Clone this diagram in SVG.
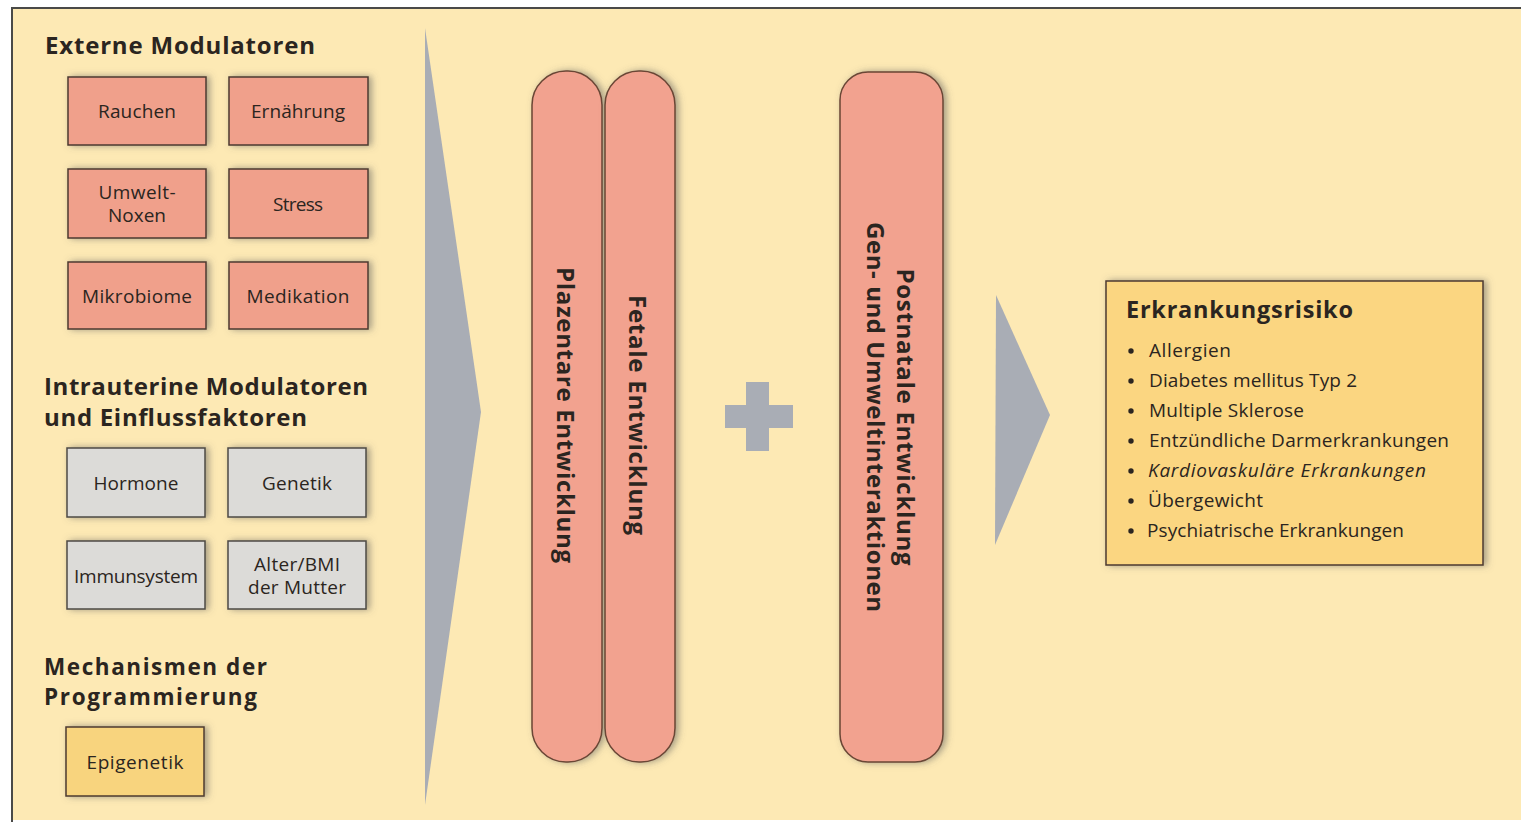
<svg xmlns="http://www.w3.org/2000/svg" width="1521" height="825" viewBox="0 0 1521 825">
<defs>
<filter id="sh" x="-20%" y="-20%" width="140%" height="140%">
<feDropShadow dx="3" dy="0" stdDeviation="3.5" flood-color="#5a5a5a" flood-opacity="0.55"/>
</filter>
<style>
.bg{fill:#fde9b4}
.frame{fill:none;stroke:#4a4a48;stroke-width:2}
.h{font-family:"Open Sans","Noto Sans",sans-serif;font-weight:700;font-size:24px;fill:#2b2520}
.h2{font-size:22.5px}
.t{font-family:"Open Sans","Noto Sans",sans-serif;font-size:19px;fill:#2b2520;text-anchor:middle}
.red{fill:#f0a08b;stroke:#4d3a30;stroke-width:1.5;filter:url(#sh)}
.grey{fill:#dcdbd8;stroke:#4d4a45;stroke-width:1.5;filter:url(#sh)}
.yel{fill:#f8d47e;stroke:#4d3a30;stroke-width:1.5;filter:url(#sh)}
.pill{fill:#f2a28f;stroke:#6a4635;stroke-width:1.5;filter:url(#sh)}
.vt{font-family:"Open Sans","Noto Sans",sans-serif;font-weight:700;font-size:24px;fill:#2b2520;text-anchor:middle;dominant-baseline:central}
.arr{fill:#a9adb5}
.li{font-family:"Open Sans","Noto Sans",sans-serif;font-size:19px;fill:#2b2520}
</style>
</defs>
<rect x="0" y="0" width="1521" height="825" fill="#ffffff"/>
<rect class="bg" x="12" y="8" width="1509" height="812"/>
<path class="frame" d="M12,822 V8 H1521"/>

<text class="h" x="45" y="54" textLength="270" lengthAdjust="spacing">Externe Modulatoren</text>
<text class="h" x="44" y="395" textLength="324" lengthAdjust="spacing">Intrauterine Modulatoren</text>
<text class="h" x="44" y="426" textLength="263" lengthAdjust="spacing">und Einflussfaktoren</text>
<text class="h h2" x="44" y="675" textLength="223" lengthAdjust="spacing">Mechanismen der</text>
<text class="h h2" x="44" y="705" textLength="213" lengthAdjust="spacing">Programmierung</text>

<g id="connectors">
<polygon class="arr" points="425,28 481,412 425,805"/>
<polygon class="arr" points="996,295 1050,415 995,545"/>
<path class="arr" d="M746,382 H769 V405 H793 V428 H769 V451 H746 V428 H725 V405 H746 Z"/>
</g>

<g id="rauchen"><rect class="red" x="68" y="77" width="138" height="68"/><text class="t" x="137" y="118" textLength="78">Rauchen</text></g>
<g id="ernaehrung"><rect class="red" x="229" y="77" width="139" height="68"/><text class="t" x="298" y="118" textLength="94">Ernährung</text></g>
<g id="umweltnoxen"><rect class="red" x="68" y="169" width="138" height="69"/><text class="t" x="137" y="199" textLength="77">Umwelt-</text><text class="t" x="137" y="222" textLength="58">Noxen</text></g>
<g id="stress"><rect class="red" x="229" y="169" width="139" height="69"/><text class="t" x="298" y="211" textLength="50">Stress</text></g>
<g id="mikrobiome"><rect class="red" x="68" y="262" width="138" height="67"/><text class="t" x="137" y="303" textLength="110">Mikrobiome</text></g>
<g id="medikation"><rect class="red" x="229" y="262" width="139" height="67"/><text class="t" x="298" y="303" textLength="103">Medikation</text></g>

<g id="hormone"><rect class="grey" x="67" y="448" width="138" height="69"/><text class="t" x="136" y="490" textLength="85">Hormone</text></g>
<g id="genetik"><rect class="grey" x="228" y="448" width="138" height="69"/><text class="t" x="297" y="490" textLength="70">Genetik</text></g>
<g id="immunsystem"><rect class="grey" x="67" y="541" width="138" height="68"/><text class="t" x="136" y="583" textLength="124">Immunsystem</text></g>
<g id="alterbmi"><rect class="grey" x="228" y="541" width="138" height="68"/><text class="t" x="297" y="571" textLength="86">Alter/BMI</text><text class="t" x="297" y="594" textLength="98">der Mutter</text></g>

<g id="epigenetik"><rect class="yel" x="66" y="727" width="138" height="69"/><text class="t" x="135" y="769" textLength="97">Epigenetik</text></g>

<g id="plazentare"><rect class="pill" x="532" y="71" width="70" height="691" rx="34" ry="34"/><text class="vt" transform="translate(566,415) rotate(90)" textLength="296" lengthAdjust="spacing">Plazentare Entwicklung</text></g>
<g id="fetale"><rect class="pill" x="605" y="71" width="70" height="691" rx="34" ry="34"/><text class="vt" transform="translate(638,415) rotate(90)" textLength="240" lengthAdjust="spacing">Fetale Entwicklung</text></g>
<g id="postnatale"><rect class="pill" x="840" y="72" width="103" height="690" rx="28" ry="28"/><text class="vt" transform="translate(906,417) rotate(90)" textLength="297" lengthAdjust="spacing">Postnatale Entwicklung</text><text class="vt" transform="translate(876,417) rotate(90)" textLength="390" lengthAdjust="spacing">Gen- und Umweltinteraktionen</text></g>

<g id="erkrankungsrisiko">
<rect class="yel" x="1106" y="281" width="377" height="284" style="fill:#fbd681"/>
<text class="h" x="1126" y="318" style="font-size:23.5px" textLength="227" lengthAdjust="spacing">Erkrankungsrisiko</text>
<g class="li">
<circle cx="1131" cy="351" r="2.7" fill="#2b2520"/><text x="1149" y="357" textLength="82">Allergien</text>
<circle cx="1131" cy="381" r="2.7" fill="#2b2520"/><text x="1149" y="387" textLength="208">Diabetes mellitus Typ 2</text>
<circle cx="1131" cy="411" r="2.7" fill="#2b2520"/><text x="1149" y="417" textLength="155">Multiple Sklerose</text>
<circle cx="1131" cy="441" r="2.7" fill="#2b2520"/><text x="1149" y="447" textLength="300">Entzündliche Darmerkrankungen</text>
<circle cx="1131" cy="471" r="2.7" fill="#2b2520"/><text x="1148" y="477" font-style="italic" textLength="278">Kardiovaskuläre Erkrankungen</text>
<circle cx="1131" cy="501" r="2.7" fill="#2b2520"/><text x="1148" y="507" textLength="115">Übergewicht</text>
<circle cx="1131" cy="531" r="2.7" fill="#2b2520"/><text x="1147" y="537" textLength="257">Psychiatrische Erkrankungen</text>
</g>
</g>
</svg>
